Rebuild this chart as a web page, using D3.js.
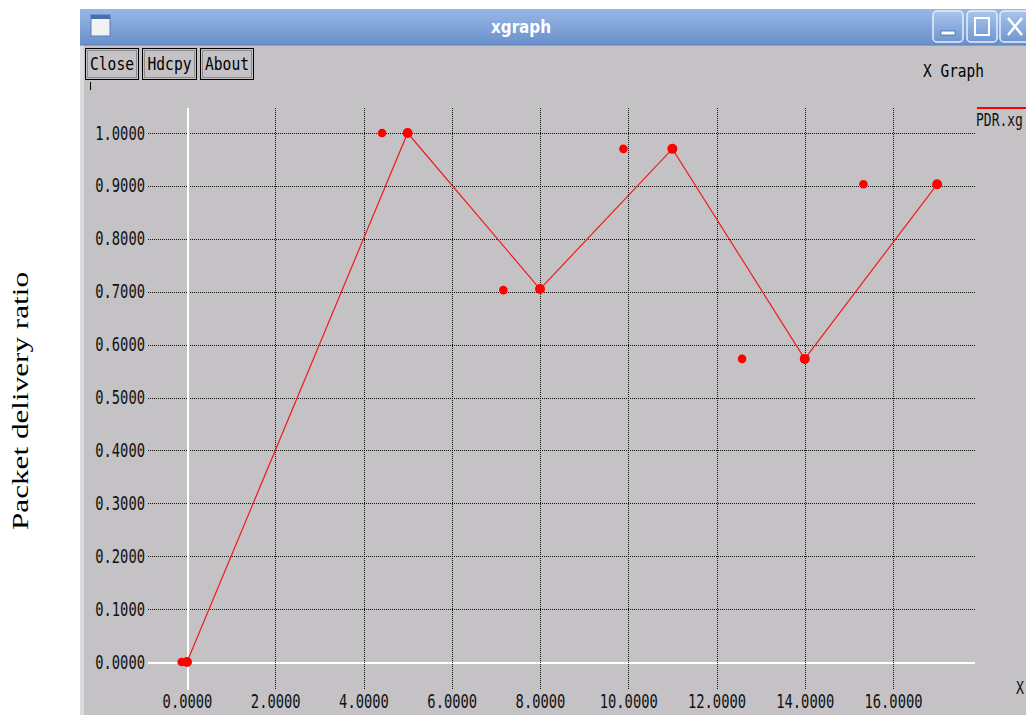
<!DOCTYPE html>
<html>
<head>
<meta charset="utf-8">
<script src="https://cdn.jsdelivr.net/npm/d3@7/dist/d3.min.js"></script>
<style>
  html, body { margin: 0; padding: 0; background: #fff; }
  svg { display: block; }
</style>
</head>
<body>
<svg id="chart" width="1026" height="715"></svg>
<script>
// ---- data ----
const xTickValues = [0, 2, 4, 6, 8, 10, 12, 14, 16];
const yTickValues = [0, 0.1, 0.2, 0.3, 0.4, 0.5, 0.6, 0.7, 0.8, 0.9, 1.0];
const seriesName = "PDR.xg";
const lineX = [0, 5, 8, 11, 14, 17];
const lineY = [0, 1.0, 0.705, 0.97, 0.573, 0.903];
const extraX = [-0.12, 4.42, 7.17, 9.89, 12.58, 15.33];
const extraY = [0, 1.0, 0.703, 0.97, 0.573, 0.903];
const buttonLabels = ["Close", "Hdcpy", "About"];
const windowTitle = "xgraph";
const graphTitle = "X Graph";
const yAxisTitle = "Packet delivery ratio";

// ---- layout ----
const svg = d3.select("#chart");
const W = 1026, H = 715;
const winX = 80, winY = 9;
const bg = "#c4c2c5";
const mono = "'DejaVu Sans Mono', 'Liberation Mono', monospace";
const charW = 8.3;

const x = d3.scaleLinear().domain([0, 16]).range([187, 893]);
const y = d3.scaleLinear().domain([0, 1]).range([662, 133]);
const gridLeft = 148, gridRight = 975, gridTop = 108, gridBottom = 690;

// defs
const defs = svg.append("defs");
const grad = defs.append("linearGradient").attr("id", "tb").attr("x1", 0).attr("y1", 0).attr("x2", 0).attr("y2", 1);
grad.append("stop").attr("offset", "0%").attr("stop-color", "#98b7e5");
grad.append("stop").attr("offset", "100%").attr("stop-color", "#6990cc");
const btnGrad = defs.append("linearGradient").attr("id", "tbb").attr("x1", 0).attr("y1", 0).attr("x2", 0).attr("y2", 1);
btnGrad.append("stop").attr("offset", "0%").attr("stop-color", "#a9c4ec");
btnGrad.append("stop").attr("offset", "100%").attr("stop-color", "#6f96d1");
defs.append("clipPath").attr("id", "plotclip").append("rect")
  .attr("x", winX).attr("y", winY).attr("width", W - winX).attr("height", H - winY);

// background
svg.append("rect").attr("width", W).attr("height", H).attr("fill", "#fff");
svg.append("rect").attr("x", winX).attr("y", winY).attr("width", W - winX).attr("height", H - winY).attr("fill", bg);
svg.append("rect").attr("x", winX).attr("y", winY).attr("width", 4).attr("height", H - winY).attr("fill", "#dcdcde");

// title bar
svg.append("rect").attr("x", winX).attr("y", winY).attr("width", W - winX).attr("height", 36).attr("fill", "url(#tb)");
svg.append("line").attr("x1", winX).attr("x2", W).attr("y1", winY + 36).attr("y2", winY + 36).attr("stroke", "#5a7fb8");
// window icon
svg.append("rect").attr("x", 91).attr("y", 15).attr("width", 19).attr("height", 21).attr("fill", "#f2f2f2").attr("stroke", "#5c7fb5");
svg.append("rect").attr("x", 91).attr("y", 15).attr("width", 19).attr("height", 4).attr("fill", "#4a6fa8");
svg.append("text").attr("x", 521).attr("y", 33).attr("text-anchor", "middle")
  .attr("font-family", "'DejaVu Sans', sans-serif").attr("font-weight", "bold").attr("font-size", 17)
  .attr("fill", "#ffffff").attr("textLength", 60).attr("lengthAdjust", "spacingAndGlyphs").text(windowTitle);

// window control buttons
const ctrl = [933, 967, 1000];
ctrl.forEach((bx, i) => {
  svg.append("rect").attr("x", bx).attr("y", 11).attr("width", 30).attr("height", 31).attr("rx", 4)
    .attr("fill", "url(#tbb)").attr("stroke", "#e6eefa").attr("stroke-width", 1.5);
  if (i === 0) {
    svg.append("rect").attr("x", bx + 8).attr("y", 31).attr("width", 14).attr("height", 4).attr("fill", "#fff").attr("stroke", "#4a6fa8").attr("stroke-width", 0.8);
  } else if (i === 1) {
    svg.append("rect").attr("x", bx + 8).attr("y", 18).attr("width", 14).attr("height", 17).attr("fill", "none").attr("stroke", "#fff").attr("stroke-width", 2);
  } else {
    svg.append("path").attr("d", `M${bx + 8},18 L${bx + 22},35 M${bx + 22},18 L${bx + 8},35`).attr("stroke", "#fff").attr("stroke-width", 2.5);
  }
});

// xgraph buttons
const btnX = [85, 142, 200], btnW = [53, 54, 53];
buttonLabels.forEach((lab, i) => {
  svg.append("rect").attr("x", btnX[i] + 0.5).attr("y", 48.5).attr("width", btnW[i]).attr("height", 31)
    .attr("fill", bg).attr("stroke", "#000").attr("stroke-width", 1);
  svg.append("rect").attr("x", btnX[i] + 2.5).attr("y", 50.5).attr("width", btnW[i] - 4).attr("height", 27)
    .attr("fill", "none").attr("stroke", "#8d8b8e").attr("stroke-width", 1);
  svg.append("text").attr("x", btnX[i] + btnW[i] / 2 + 0.5).attr("y", 70).attr("text-anchor", "middle")
    .attr("font-family", mono).attr("font-size", 18).attr("fill", "#000")
    .attr("textLength", lab.length * 8.8).attr("lengthAdjust", "spacingAndGlyphs").text(lab);
});
svg.append("line").attr("x1", 90.5).attr("x2", 90.5).attr("y1", 82).attr("y2", 90).attr("stroke", "#000");
svg.append("text").attr("x", 923).attr("y", 77).attr("font-family", mono).attr("font-size", 17).attr("fill", "#000")
  .attr("textLength", 61).attr("lengthAdjust", "spacingAndGlyphs").text(graphTitle);

// y grid + labels
const yAxis = d3.axisLeft(y).tickValues(yTickValues).tickFormat(d3.format(".4f"))
  .tickSize(-(gridRight - gridLeft)).tickPadding(3);
const gy = svg.append("g").attr("transform", `translate(${gridLeft},0)`).call(yAxis);
gy.select(".domain").remove();
gy.selectAll(".tick line")
  .attr("stroke", d => d === 0 ? "#ffffff" : "#111")
  .attr("stroke-width", d => d === 0 ? 2 : 1)
  .attr("stroke-dasharray", d => d === 0 ? null : "1,1")
  .attr("shape-rendering", "crispEdges");
gy.selectAll(".tick text")
  .attr("font-family", mono).attr("font-size", 19).attr("fill", "#111")
  .attr("textLength", function () { return this.textContent.length * charW; })
  .attr("lengthAdjust", "spacingAndGlyphs");

// x grid + labels
const xAxis = d3.axisBottom(x).tickValues(xTickValues).tickFormat(d3.format(".4f"))
  .tickSize(gridBottom - gridTop).tickPadding(5);
const gx = svg.append("g").attr("transform", `translate(0,${gridTop})`).call(xAxis);
gx.select(".domain").remove();
gx.selectAll(".tick line")
  .attr("stroke", d => d === 0 ? "#ffffff" : "#111")
  .attr("stroke-width", d => d === 0 ? 2 : 1)
  .attr("stroke-dasharray", d => d === 0 ? null : "1,1")
  .attr("shape-rendering", "crispEdges");
gx.selectAll(".tick text")
  .attr("font-family", mono).attr("font-size", 19).attr("fill", "#111")
  .attr("textLength", function () { return this.textContent.length * charW; })
  .attr("lengthAdjust", "spacingAndGlyphs");
// bring zero lines on top of dotted ones
gy.selectAll(".tick").filter(d => d === 0).raise();
gx.raise();
gx.selectAll(".tick").filter(d => d === 0).raise();

// x axis label at window edge
svg.append("text").attr("x", 1016).attr("y", 694).attr("font-family", mono).attr("font-size", 17)
  .attr("fill", "#111").attr("textLength", 8).attr("lengthAdjust", "spacingAndGlyphs").text("X");

// series line
const pts = lineX.map((v, i) => [v, lineY[i]]);
const line = d3.line().x(d => x(d[0])).y(d => y(d[1]));
const plot = svg.append("g").attr("clip-path", "url(#plotclip)");
plot.append("path").datum(pts).attr("d", line).attr("fill", "none").attr("stroke", "#f01c1c").attr("stroke-width", 1.2);

// extra markers
const extra = extraX.map((v, i) => [v, extraY[i]]);
plot.selectAll("circle.extra").data(extra).enter().append("circle").attr("class", "extra")
  .attr("cx", d => x(d[0])).attr("cy", d => y(d[1])).attr("r", 4.3).attr("fill", "#ff0000");
plot.selectAll("circle.main").data(pts).enter().append("circle").attr("class", "main")
  .attr("cx", d => x(d[0])).attr("cy", d => y(d[1])).attr("r", 5).attr("fill", "#ff0000");

// legend
svg.append("line").attr("x1", 977).attr("x2", W).attr("y1", 108).attr("y2", 108).attr("stroke", "#ff0000").attr("stroke-width", 2);
svg.append("text").attr("transform", "translate(976,126) scale(1,1.35)")
  .attr("font-family", mono).attr("font-size", 13).attr("fill", "#111").text(seriesName);

// y axis title (outside window)
svg.append("text").attr("transform", "translate(28,401) rotate(-90)").attr("text-anchor", "middle")
  .attr("font-family", "'Liberation Serif', 'Times New Roman', serif").attr("font-size", 24).attr("fill", "#000")
  .attr("textLength", 258).attr("lengthAdjust", "spacingAndGlyphs").text(yAxisTitle);
</script>
</body>
</html>
